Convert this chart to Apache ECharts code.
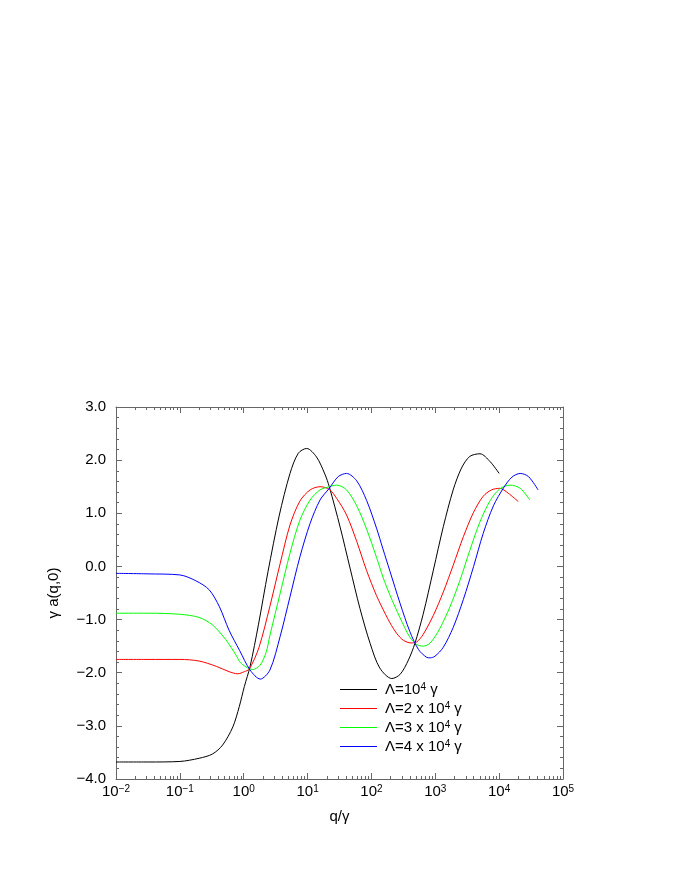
<!DOCTYPE html>
<html><head><meta charset="utf-8">
<script src="https://cdn.jsdelivr.net/npm/echarts@6/dist/echarts.min.js"></script>
<style>html,body{margin:0;padding:0;background:#fff}#c{width:680px;height:880px}</style>
</head><body><div id="c"></div>
<script>
// ---- data ----
const seriesNames = ['Λ=10^4 γ', 'Λ=2 x 10^4 γ', 'Λ=3 x 10^4 γ', 'Λ=4 x 10^4 γ'];
const legendPrefix = ['Λ=10', 'Λ=2 x 10', 'Λ=3 x 10', 'Λ=4 x 10'];
const legendSup = ['4', '4', '4', '4'];
const legendSuffix = [' γ', ' γ', ' γ', ' γ'];
const seriesColors = ['#000000', '#ff0000', '#00ff00', '#0000ff'];
const xTickExponents = ['−2', '−1', '0', '1', '2', '3', '4', '5'];
const yTickLabels = ['−4.0', '−3.0', '−2.0', '−1.0', '0.0', '1.0', '2.0', '3.0'];

const lambda1 = [[0.01,-3.68],[0.0316,-3.68],[0.1,-3.67],[0.2,-3.61],[0.324,-3.53],[0.468,-3.36],[0.676,-3.02],[0.851,-2.64],[1.023,-2.26],[1.259,-1.88],[1.698,-1.10],[2.399,-0.10],[3.589,0.95],[5.309,1.75],[7.161,2.13],[9.683,2.22],[13.80,2.06],[18.62,1.74],[21.88,1.50],[32.36,0.74],[46.24,-0.03],[66.07,-0.79],[95.50,-1.45],[134.9,-1.91],[208.9,-2.11],[281.8,-2.03],[380.2,-1.76],[478.6,-1.45],[645.7,-0.90],[933.3,-0.07],[1337,0.75],[1905,1.44],[2570,1.85],[3467,2.07],[5012,2.12],[7244,1.97],[10000,1.75]];
const lambda2 = [[0.01,-1.75],[0.0316,-1.75],[0.1,-1.75],[0.2,-1.78],[0.372,-1.88],[0.589,-1.98],[0.804,-2.02],[1.023,-1.98],[1.225,-1.93],[1.738,-1.52],[2.570,-0.75],[3.715,0.05],[5.309,0.78],[7.586,1.23],[10.96,1.44],[15.67,1.50],[21.88,1.45],[28.58,1.28],[40.74,0.97],[58.88,0.47],[84.14,-0.08],[120.2,-0.55],[166.0,-0.90],[195.0,-1.06],[248.3,-1.26],[316.2,-1.39],[416.9,-1.44],[512.9,-1.42],[645.7,-1.28],[933.3,-0.92],[1337,-0.48],[1905,0.02],[2754,0.56],[3981,1.02],[5623,1.32],[7586,1.44],[10233,1.47],[13804,1.38],[19953,1.22]];
const lambda3 = [[0.01,-0.88],[0.0316,-0.88],[0.1,-0.90],[0.2,-0.96],[0.324,-1.10],[0.525,-1.38],[0.759,-1.67],[0.875,-1.80],[1.084,-1.89],[1.380,-1.94],[1.799,-1.86],[2.239,-1.62],[2.570,-1.30],[3.715,-0.51],[5.309,0.25],[7.586,0.87],[10.96,1.25],[15.67,1.44],[21.88,1.50],[28.58,1.53],[40.74,1.44],[58.88,1.14],[84.14,0.70],[120.2,0.17],[151.4,-0.20],[195.0,-0.54],[281.8,-0.97],[398.1,-1.33],[512.9,-1.47],[645.7,-1.50],[831.8,-1.44],[1175,-1.17],[1698,-0.76],[2455,-0.25],[3467,0.30],[5012,0.84],[7244,1.24],[10233,1.46],[14791,1.53],[21380,1.47],[30200,1.25]];
const lambda4 = [[0.01,-0.13],[0.0316,-0.14],[0.1,-0.16],[0.178,-0.27],[0.288,-0.44],[0.417,-0.76],[0.589,-1.20],[0.861,-1.58],[1.259,-1.95],[1.820,-2.12],[2.570,-1.95],[3.715,-1.32],[5.309,-0.57],[7.586,0.18],[10.96,0.81],[15.67,1.25],[21.88,1.47],[30.20,1.69],[40.74,1.75],[58.88,1.61],[84.14,1.24],[120.2,0.72],[151.4,0.33],[195.0,-0.09],[281.8,-0.70],[398.1,-1.22],[543.3,-1.56],[732.8,-1.71],[831.8,-1.72],[988.6,-1.69],[1337,-1.52],[1905,-1.15],[2754,-0.62],[3981,0.00],[5623,0.62],[8128,1.14],[11749,1.48],[15849,1.68],[21380,1.75],[28840,1.69],[40738,1.44]];
const seriesData = [lambda1, lambda2, lambda3, lambda4];

// ---- chart ----
const font = '"Liberation Sans", Arial, Helvetica, sans-serif';
const frameColor = '#666';
const minorExps = [];
for (let n = -2; n < 5; n++) for (let k = 2; k <= 9; k++) minorExps.push(n + Math.log10(k));

const xRich = {
  b: { fontSize: 15, fontFamily: font, color: '#000', lineHeight: 16 },
  s: { fontSize: 10, fontFamily: font, color: '#000', verticalAlign: 'top', lineHeight: 10 }
};
function xLabel(v) {
  const i = Math.round(Math.log10(v)) + 2;
  return '{b|10}{s|' + xTickExponents[i] + '}';
}
const lineSt = { color: frameColor, width: 1 };
const hidden = { show: false };

const xAxes = [
  { type: 'log', logBase: 10, min: 0.01, max: 100000, splitNumber: 7, position: 'bottom',
    axisLine: { show: true, onZero: false, lineStyle: lineSt },
    axisTick: { show: true, inside: true, length: 6, lineStyle: lineSt },
    splitLine: hidden, minorTick: hidden,
    axisLabel: { formatter: xLabel, rich: xRich, margin: 5 },
    name: 'q/γ', nameLocation: 'middle', nameGap: 30,
    nameTextStyle: { fontSize: 15, fontFamily: font, color: '#000' } },
  { type: 'value', min: -2, max: 5, position: 'bottom',
    axisLine: { show: false, onZero: false },
    axisTick: { show: true, inside: true, length: 3, customValues: minorExps, lineStyle: lineSt },
    axisLabel: hidden, splitLine: hidden },
  { type: 'log', logBase: 10, min: 0.01, max: 100000, splitNumber: 7, position: 'top',
    axisLine: { show: true, onZero: false, lineStyle: lineSt },
    axisTick: { show: true, inside: true, length: 6, lineStyle: lineSt },
    axisLabel: hidden, splitLine: hidden },
  { type: 'value', min: -2, max: 5, position: 'top',
    axisLine: { show: false, onZero: false },
    axisTick: { show: true, inside: true, length: 3, customValues: minorExps, lineStyle: lineSt },
    axisLabel: hidden, splitLine: hidden }
];
const yAxes = [
  { type: 'value', min: -4, max: 3, interval: 1, position: 'left',
    axisLine: { show: true, onZero: false, lineStyle: lineSt },
    axisTick: { show: true, inside: true, length: 6, lineStyle: lineSt },
    minorTick: { show: true, splitNumber: 5, length: 3, lineStyle: lineSt },
    splitLine: hidden,
    axisLabel: { formatter: v => yTickLabels[Math.round(v) + 4], fontSize: 15, fontFamily: font, color: '#000', margin: 10 },
    name: 'γ a(q,0)', nameLocation: 'middle', nameGap: 55, nameRotate: 90,
    nameTextStyle: { fontSize: 15, fontFamily: font, color: '#000' } },
  { type: 'value', min: -4, max: 3, interval: 1, position: 'right',
    axisLine: { show: true, onZero: false, lineStyle: lineSt },
    axisTick: { show: true, inside: true, length: 6, lineStyle: lineSt },
    minorTick: { show: true, splitNumber: 5, length: 3, lineStyle: lineSt },
    splitLine: hidden, axisLabel: hidden }
];

const option = {
  animation: false,
  backgroundColor: '#fff',
  grid: { left: 116, right: 117, top: 407, bottom: 101, containLabel: false, outerBoundsMode: 'none' },
  xAxis: xAxes,
  yAxis: yAxes,
  legend: {
    data: seriesNames, orient: 'vertical', left: 340, top: 682, padding: 0,
    icon: 'path://M0,0H0.01V0.01H0Z M0,6.5H37V7.5H0Z M39.99,13.99H40V14H39.99Z',
    itemWidth: 40, itemHeight: 14, itemGap: 4,
    formatter: function (name) {
      const i = seriesNames.indexOf(name);
      return '{m|' + legendPrefix[i] + '}{s|' + legendSup[i] + '}{m|' + legendSuffix[i] + '}';
    },
    textStyle: {
      rich: {
        m: { fontSize: 15, fontFamily: font, color: '#000', lineHeight: 14 },
        s: { fontSize: 10, fontFamily: font, color: '#000', verticalAlign: 'top', lineHeight: 9 }
      }
    }
  },
  series: seriesNames.map((n, i) => ({
    name: n, type: 'line', xAxisIndex: 0, yAxisIndex: 0,
    data: seriesData[i], symbol: 'none', smooth: 0.3,
    color: seriesColors[i],
    lineStyle: { color: seriesColors[i], width: 1 }
  }))
};
const chart = echarts.init(document.getElementById('c'));
chart.setOption(option);
</script>
</body></html>
